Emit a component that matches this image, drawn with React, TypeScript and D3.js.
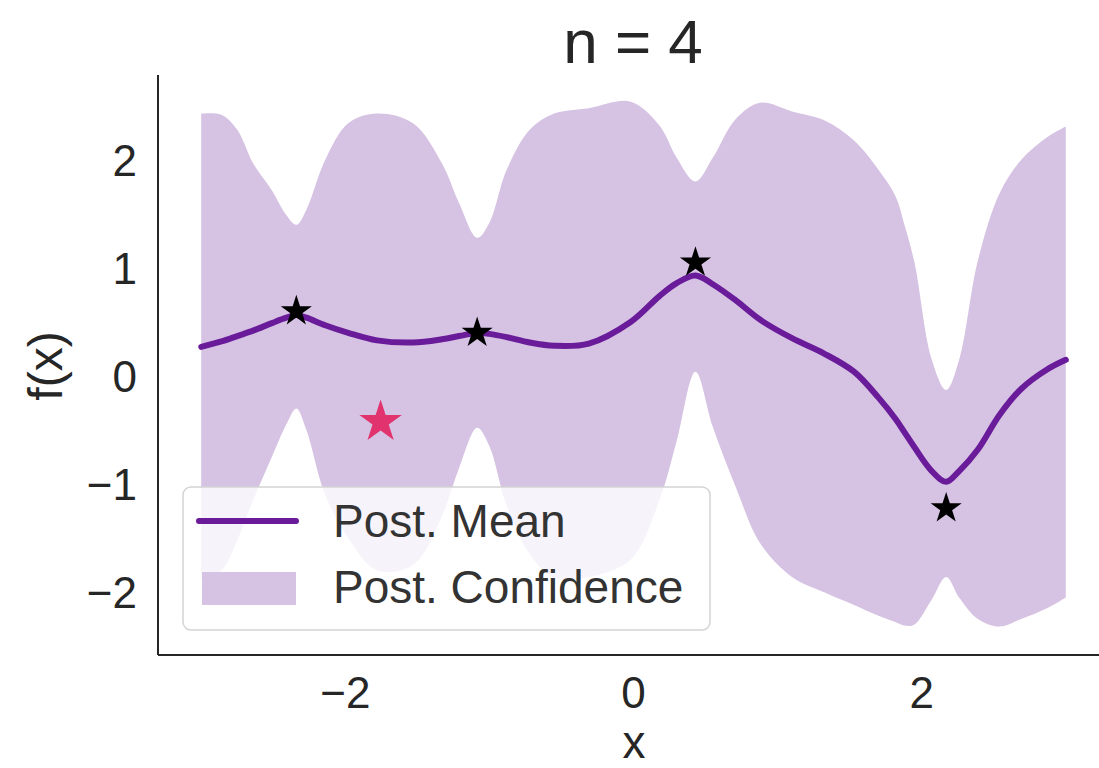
import React, { useEffect, useRef } from 'react';
import * as d3 from 'd3';

const xs = [-3.0, -2.86, -2.75, -2.64, -2.51, -2.41, -2.34, -2.27, -2.14, -1.98, -1.78, -1.53, -1.33, -1.21, -1.085, -1.0, -0.88, -0.72, -0.55, -0.31, -0.02, 0.18, 0.30, 0.43, 0.55, 0.71, 0.88, 1.1, 1.32, 1.53, 1.70, 1.82, 1.88, 1.95, 2.07, 2.17, 2.26, 2.39, 2.54, 2.69, 2.87, 3.0];
const postMean = [0.27, 0.32, 0.37, 0.42, 0.49, 0.54, 0.565, 0.54, 0.47, 0.40, 0.33, 0.31, 0.34, 0.37, 0.40, 0.39, 0.36, 0.31, 0.28, 0.30, 0.50, 0.74, 0.86, 0.93, 0.85, 0.70, 0.52, 0.35, 0.21, 0.04, -0.20, -0.40, -0.52, -0.66, -0.88, -0.98, -0.88, -0.68, -0.36, -0.12, 0.06, 0.15];
const upper = [2.43, 2.42, 2.28, 1.97, 1.72, 1.49, 1.40, 1.54, 2.0, 2.34, 2.43, 2.34, 1.97, 1.60, 1.28, 1.42, 1.91, 2.28, 2.43, 2.48, 2.54, 2.32, 2.02, 1.80, 2.02, 2.38, 2.53, 2.45, 2.37, 2.18, 1.91, 1.66, 1.40, 1.05, 0.15, -0.13, 0.15, 1.07, 1.69, 2.0, 2.21, 2.31];
const lower = [-1.88, -1.80, -1.52, -1.15, -0.75, -0.45, -0.30, -0.50, -1.10, -1.50, -1.80, -1.75, -1.30, -0.85, -0.48, -0.65, -1.20, -1.65, -1.87, -1.86, -1.70, -1.15, -0.60, 0.04, -0.47, -1.03, -1.55, -1.86, -2.0, -2.12, -2.22, -2.28, -2.31, -2.30, -2.07, -1.86, -2.05, -2.25, -2.32, -2.25, -2.15, -2.05];

// observed points and the next candidate
const obsX = [-2.34, -1.085, 0.43, 2.17];
const obsY = [0.6, 0.4, 1.05, -1.225];
const nextX = -1.755;
const nextY = -0.425;

const xTicks = [-2, 0, 2];
const yTicks = [-2, -1, 0, 1, 2];
const legendLabels = ['Post. Mean', 'Post. Confidence'];

const W = 1099;
const H = 768;
const FONT = '"Liberation Sans", Arial, sans-serif';
const PURPLE = '#6a1b9a';
const BAND = '#d6c2e3';
const INK = '#262626';

export default function App() {
    const svgRef = useRef<SVGSVGElement>(null);

    useEffect(() => {
        const svg = d3.select(svgRef.current);
        svg.selectAll('*').remove();

        const left = 158, right = 1109, top = 75, bottom = 655;
        const x = d3.scaleLinear().domain([-3.3, 3.3]).range([left, right]);
        const y = d3.scaleLinear().domain([-2.583, 2.787]).range([bottom, top]);

        const pts = xs.map((v, i) => ({ x: v, m: postMean[i], lo: lower[i], hi: upper[i] }));
        const curve = d3.curveCatmullRom.alpha(0.5);

        const area = d3.area<any>()
            .x(d => x(d.x))
            .y0(d => y(d.lo))
            .y1(d => y(d.hi))
            .curve(curve);
        svg.append('path').datum(pts).attr('d', area).attr('fill', BAND);

        const line = d3.line<any>()
            .x(d => x(d.x))
            .y(d => y(d.m))
            .curve(curve);
        svg.append('path').datum(pts).attr('d', line)
            .attr('fill', 'none').attr('stroke', PURPLE).attr('stroke-width', 6)
            .attr('stroke-linecap', 'round');

        const star = d3.symbol().type(d3.symbolStar);
        svg.selectAll('.obs').data(obsX).enter().append('path')
            .attr('class', 'obs')
            .attr('d', star.size(300)())
            .attr('transform', (d, i) => `translate(${x(d)},${y(obsY[i])})`)
            .attr('fill', '#000');
        svg.append('path')
            .attr('d', d3.symbol().type(d3.symbolStar).size(560)())
            .attr('transform', `translate(${x(nextX)},${y(nextY)})`)
            .attr('fill', '#e1346e');

        // spines
        svg.append('line').attr('x1', left).attr('x2', left).attr('y1', top).attr('y2', bottom)
            .attr('stroke', INK).attr('stroke-width', 2);
        svg.append('line').attr('x1', left).attr('x2', right).attr('y1', bottom).attr('y2', bottom)
            .attr('stroke', INK).attr('stroke-width', 2);

        svg.selectAll('.xt').data(xTicks).enter().append('text')
            .attr('x', d => x(d)).attr('y', 708)
            .attr('text-anchor', 'middle')
            .attr('font-size', 44).attr('font-family', FONT).attr('fill', INK)
            .text(d => d3.format('')(d).replace('-', '\u2212'));

        svg.selectAll('.yt').data(yTicks).enter().append('text')
            .attr('x', 137).attr('y', d => y(d) + 16)
            .attr('text-anchor', 'end')
            .attr('font-size', 44).attr('font-family', FONT).attr('fill', INK)
            .text(d => d3.format('')(d).replace('-', '\u2212'));

        svg.append('text').attr('x', 634).attr('y', 758).attr('text-anchor', 'middle')
            .attr('font-size', 46).attr('font-family', FONT).attr('fill', INK).text('x');
        svg.append('text').attr('transform', 'translate(62,366) rotate(-90)').attr('text-anchor', 'middle')
            .attr('font-size', 48).attr('font-family', FONT).attr('fill', INK).text('f(x)');
        svg.append('text').attr('x', 633).attr('y', 63).attr('text-anchor', 'middle')
            .attr('font-size', 62).attr('font-family', FONT).attr('fill', INK).text('n = 4');

        // legend
        const lg = svg.append('g');
        lg.append('rect').attr('x', 183).attr('y', 487).attr('width', 527).attr('height', 143)
            .attr('rx', 8).attr('fill', '#fff').attr('fill-opacity', 0.8)
            .attr('stroke', '#d4d4d4').attr('stroke-width', 1.5);
        lg.append('line').attr('x1', 199).attr('x2', 296).attr('y1', 521).attr('y2', 521)
            .attr('stroke', PURPLE).attr('stroke-width', 6).attr('stroke-linecap', 'round');
        lg.append('rect').attr('x', 202).attr('y', 572).attr('width', 94).attr('height', 33)
            .attr('fill', BAND);
        lg.selectAll('.lt').data(legendLabels).enter().append('text')
            .attr('x', 333).attr('y', (_, i) => 537 + i * 66)
            .attr('font-size', 46).attr('font-family', FONT).attr('fill', '#333')
            .text(d => d);
    }, []);

    return (
        <div style={{ position: 'absolute', left: 0, top: 0 }}>
            <svg ref={svgRef} width={W} height={H} style={{ display: 'block', background: '#fff' }}></svg>
        </div>
    );
}
